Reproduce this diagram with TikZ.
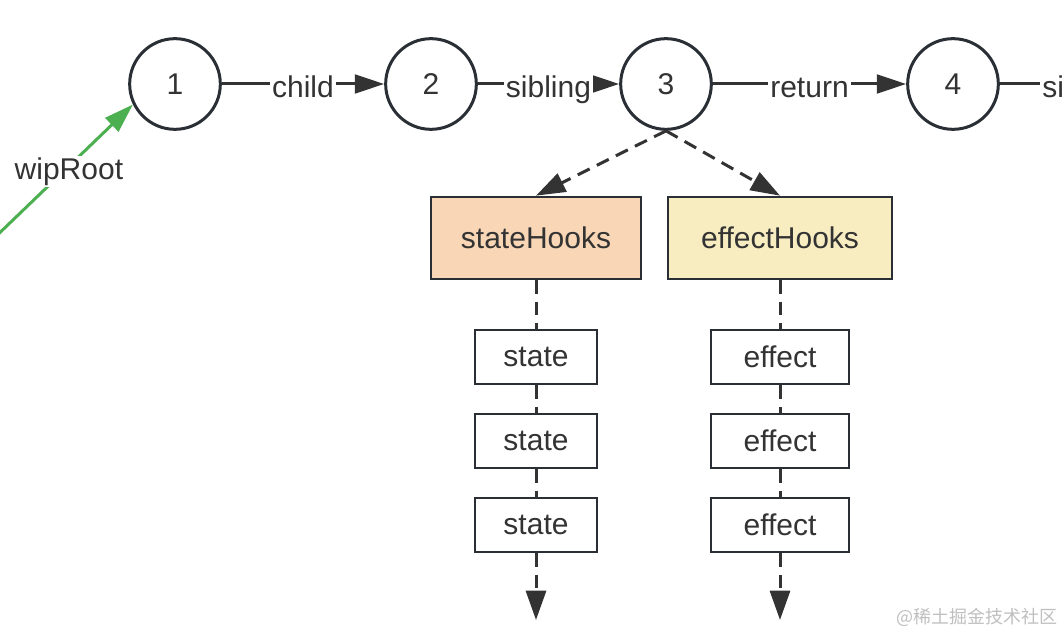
\documentclass[tikz,border=0pt]{standalone}
\usepackage{fontspec}
\setmainfont{Liberation Sans}
\newfontfamily\cjkfont{Noto Sans CJK SC}
\usetikzlibrary{arrows.meta}
\definecolor{ink}{HTML}{2A2E35}
\definecolor{txt}{HTML}{333333}
\definecolor{wipgreen}{HTML}{4CAF50}
\definecolor{statefill}{HTML}{F8D6B6}
\definecolor{effectfill}{HTML}{F7EDC1}
\tikzset{
    bigfont/.style={font=\fontsize{22.5}{27}\selectfont},
    fiber/.style={circle,draw=ink,line width=2.25pt,minimum size=68pt,inner sep=0pt,text=txt,bigfont},
    hookbox/.style={draw=ink,line width=1.5pt,minimum height=62pt,inner sep=0pt,text=txt,bigfont},
    itembox/.style={draw=ink,line width=1.5pt,minimum height=41pt,inner sep=0pt,text=txt,bigfont},
    link/.style={line width=2.25pt,draw=txt,-{Triangle[length=22pt,width=14pt]}},
    lbl/.style={fill=white,inner sep=1.5pt,text height=16pt,text depth=4pt,yshift=-4pt,text=txt,bigfont},
    chain/.style={line width=2.25pt,draw=txt,dash pattern=on 10pt off 6pt},
    chainarrow/.style={chain,-{Triangle[length=22pt,width=15pt]}},
}
\begin{document}
\begin{tikzpicture}[x=0.75pt,y=-0.75pt]
\useasboundingbox (0,0) rectangle (1064,634);
\clip (0,0) rectangle (1064,634);
\node[fiber] (n1) at (175,84) {1};
\node[fiber] (n2) at (431,84) {2};
\node[fiber] (n3) at (666,84) {3};
\node[fiber] (n4) at (953,84) {4};
\coordinate (wipsrc) at (-40,271);
\coordinate (n5) at (1170,84);
\draw[link] (n1) -- node[lbl]{child} (n2);
\draw[link] (n2) -- node[lbl]{sibling} (n3);
\draw[link] (n3) -- node[lbl]{return} (n4);
\draw[link] (n4) -- node[lbl]{sibling} (n5);
\draw[link,draw=wipgreen] (wipsrc) -- node[lbl,pos=0.63]{wipRoot} (n1.206);
\node[hookbox,fill=statefill,minimum width=157.5pt] (stateHooks) at (536,238) {stateHooks};
\node[hookbox,fill=effectfill,minimum width=168pt] (effectHooks) at (780,238) {effectHooks};
\draw[chainarrow] (n3.south) -- (stateHooks.north);
\draw[chainarrow] (n3.south) -- (effectHooks.north);
\foreach \i/\y in {1/357,2/441,3/525} {
    \node[itembox,minimum width=92pt] (state\i) at (536,\y) {state};
    \node[itembox,minimum width=103pt] (effect\i) at (780,\y) {effect};
}
\coordinate (stateEnd) at (536,620);
\coordinate (effectEnd) at (780,620);
\draw[chain] (stateHooks) -- (state1);
\draw[chain] (state1) -- (state2);
\draw[chain] (state2) -- (state3);
\draw[chainarrow] (state3) -- (stateEnd);
\draw[chain] (effectHooks) -- (effect1);
\draw[chain] (effect1) -- (effect2);
\draw[chain] (effect2) -- (effect3);
\draw[chainarrow] (effect3) -- (effectEnd);
\node[font=\cjkfont\fontsize{13.5}{16}\selectfont,text=black!25,anchor=east,inner sep=0pt] (mark) at (1058,617) {@稀土掘金技术社区};
\end{tikzpicture}
\end{document}
